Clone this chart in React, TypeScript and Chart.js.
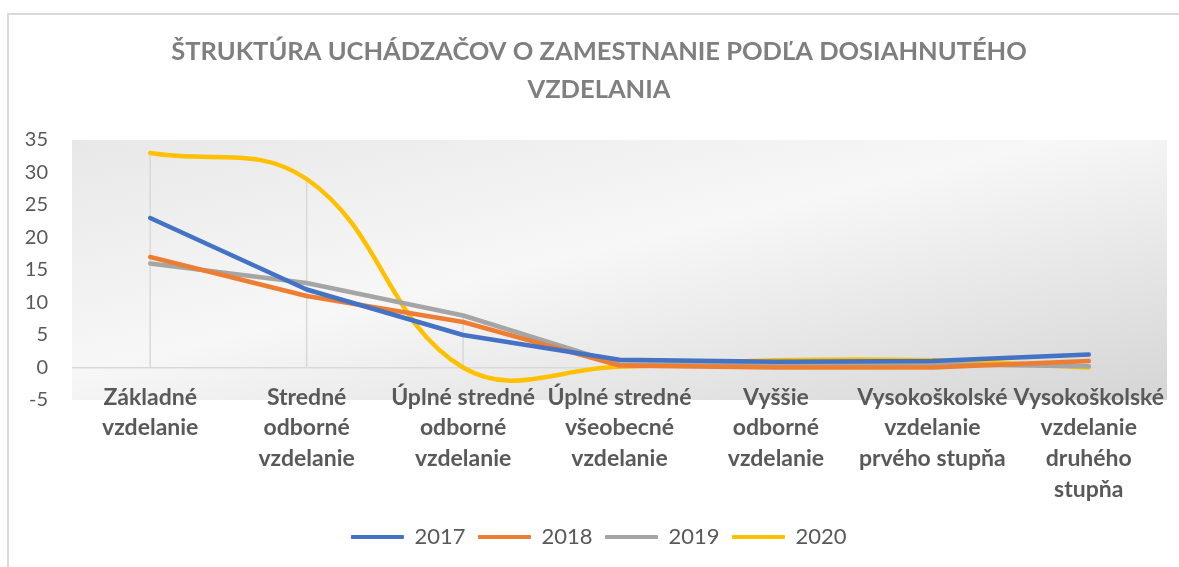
import React, { useEffect, useRef } from 'react';
import { Chart, registerables } from 'chart.js';

Chart.register(...registerables);

const categories: string[][] = [
  ['Základné', 'vzdelanie'],
  ['Stredné', 'odborné', 'vzdelanie'],
  ['Úplné stredné', 'odborné', 'vzdelanie'],
  ['Úplné stredné', 'všeobecné', 'vzdelanie'],
  ['Vyššie', 'odborné', 'vzdelanie'],
  ['Vysokoškolské', 'vzdelanie', 'prvého stupňa'],
  ['Vysokoškolské', 'vzdelanie', 'druhého', 'stupňa'],
];

const seriesNames = ['2017', '2018', '2019', '2020'];
const values2017 = [23, 12, 5, 1.2, 0.9, 1, 2];
const values2018 = [17, 11, 7, 0.3, 0, 0, 1];
const values2019 = [16, 13, 8, 0.5, 0.4, 0.5, 0.2];
const values2020 = [33, 29, 0, 0.1, 1.1, 1.1, 0];
const seriesColors = ['#4472C4', '#ED7D31', '#A5A5A5', '#FFC000'];
const seriesTension = [0, 0, 0, 0.4];

const yMin = -5;
const yMax = 35;
const yStep = 5;

const titleLines = ['ŠTRUKTÚRA UCHÁDZAČOV O ZAMESTNANIE PODĽA DOSIAHNUTÉHO', 'VZDELANIA'];

const allSeries = [values2017, values2018, values2019, values2020];

const backgroundPlugin = {
  id: 'excelBackground',
  beforeDraw(chart: any) {
    const { ctx, chartArea: a } = chart;
    ctx.save();
    ctx.fillStyle = '#ffffff';
    ctx.fillRect(0, 0, chart.width, chart.height);
    ctx.fillStyle = '#d9d9d9';
    ctx.fillRect(7, 13, 2, chart.height - 13);
    ctx.fillRect(7, 13, chart.width - 7, 2);
    ctx.translate(a.left, a.top);
    ctx.scale(a.right - a.left, a.bottom - a.top);
    const g = ctx.createLinearGradient(0, 0, 1, 1);
    g.addColorStop(0, '#e8e8e8');
    g.addColorStop(0.45, '#f7f7f7');
    g.addColorStop(1, '#d5d5d5');
    ctx.fillStyle = g;
    ctx.fillRect(0, 0, 1, 1);
    ctx.restore();
  },
};

const dropLinesPlugin = {
  id: 'dropLines',
  beforeDatasetsDraw(chart: any) {
    const { ctx } = chart;
    const x = chart.scales.x;
    const y = chart.scales.y;
    ctx.save();
    ctx.strokeStyle = '#d9d9d9';
    ctx.lineWidth = 1.5;
    ctx.beginPath();
    categories.forEach((_, i) => {
      const maxV = Math.max(...allSeries.map((s) => s[i]));
      const px = x.getPixelForValue(i);
      ctx.moveTo(px, y.getPixelForValue(maxV));
      ctx.lineTo(px, y.getPixelForValue(0));
    });
    ctx.stroke();
    ctx.restore();
  },
};

export default function App() {
  const ref = useRef<HTMLCanvasElement>(null);
  useEffect(() => {
    const canvas = ref.current!;
    const chart = new Chart(canvas, {
      type: 'line',
      data: {
        labels: categories,
        datasets: allSeries.map((vals, i) => ({
          label: seriesNames[i],
          data: vals,
          borderColor: seriesColors[i],
          backgroundColor: seriesColors[i],
          borderWidth: 4.5,
          pointRadius: 0,
          pointHoverRadius: 0,
          tension: seriesTension[i],
          borderCapStyle: 'round',
          borderJoinStyle: 'round',
          fill: false,
        })),
      },
      options: {
        responsive: false,
        animation: false,
        events: [],
        layout: { padding: { left: 31, right: 12, top: 0, bottom: 9 } },
        plugins: {
          title: {
            display: true,
            text: titleLines,
            color: '#7f7f7f',
            font: { family: 'Lato', size: 25.5, weight: 'bold', lineHeight: 38 / 25.5 },
            padding: { top: 33, bottom: 31 },
          },
          legend: {
            display: true,
            position: 'bottom',
            labels: {
              color: '#595959',
              font: { family: 'Lato', size: 22 },
              boxWidth: 52,
              boxHeight: 3,
              padding: 13,
              generateLabels: (c: any) =>
                c.data.datasets.map((ds: any, i: number) => ({
                  text: ds.label,
                  fillStyle: seriesColors[i],
                  strokeStyle: seriesColors[i],
                  lineWidth: 1,
                  hidden: false,
                  datasetIndex: i,
                  fontColor: '#595959',
                })),
            },
          },
          tooltip: { enabled: false },
        },
        scales: {
          x: {
            offset: true,
            grid: { display: false, drawTicks: false },
            border: { display: false },
            ticks: {
              color: '#595959',
              font: { family: 'Lato', size: 23, weight: 'bold', lineHeight: 30.7 / 23 },
              padding: -18,
              maxRotation: 0,
              minRotation: 0,
              autoSkip: false,
            },
            afterFit: (s: any) => {
              s.height = 113;
              s._computeLabelArea = () => undefined;
            },
          },
          y: {
            min: yMin,
            max: yMax,
            ticks: {
              stepSize: yStep,
              color: '#595959',
              font: { family: 'Lato', size: 20 },
              padding: 24,
            },
            grid: {
              drawTicks: false,
              color: (c: any) => (c.tick && c.tick.value === 0 ? '#d9d9d9' : 'rgba(0,0,0,0)'),
              lineWidth: 1.5,
            },
            border: { display: false },
            afterFit: (s: any) => {
              s.width = 41;
              s._computeLabelArea = () => undefined;
            },
          },
        },
      },
      plugins: [backgroundPlugin, dropLinesPlugin],
    } as any);
    return () => chart.destroy();
  }, []);
  return (
    <div style={{ position: 'absolute', left: 0, top: 0, width: 1179, height: 567, background: '#fff' }}>
      <canvas ref={ref} width={1179} height={567} style={{ display: 'block' }} />
    </div>
  );
}
